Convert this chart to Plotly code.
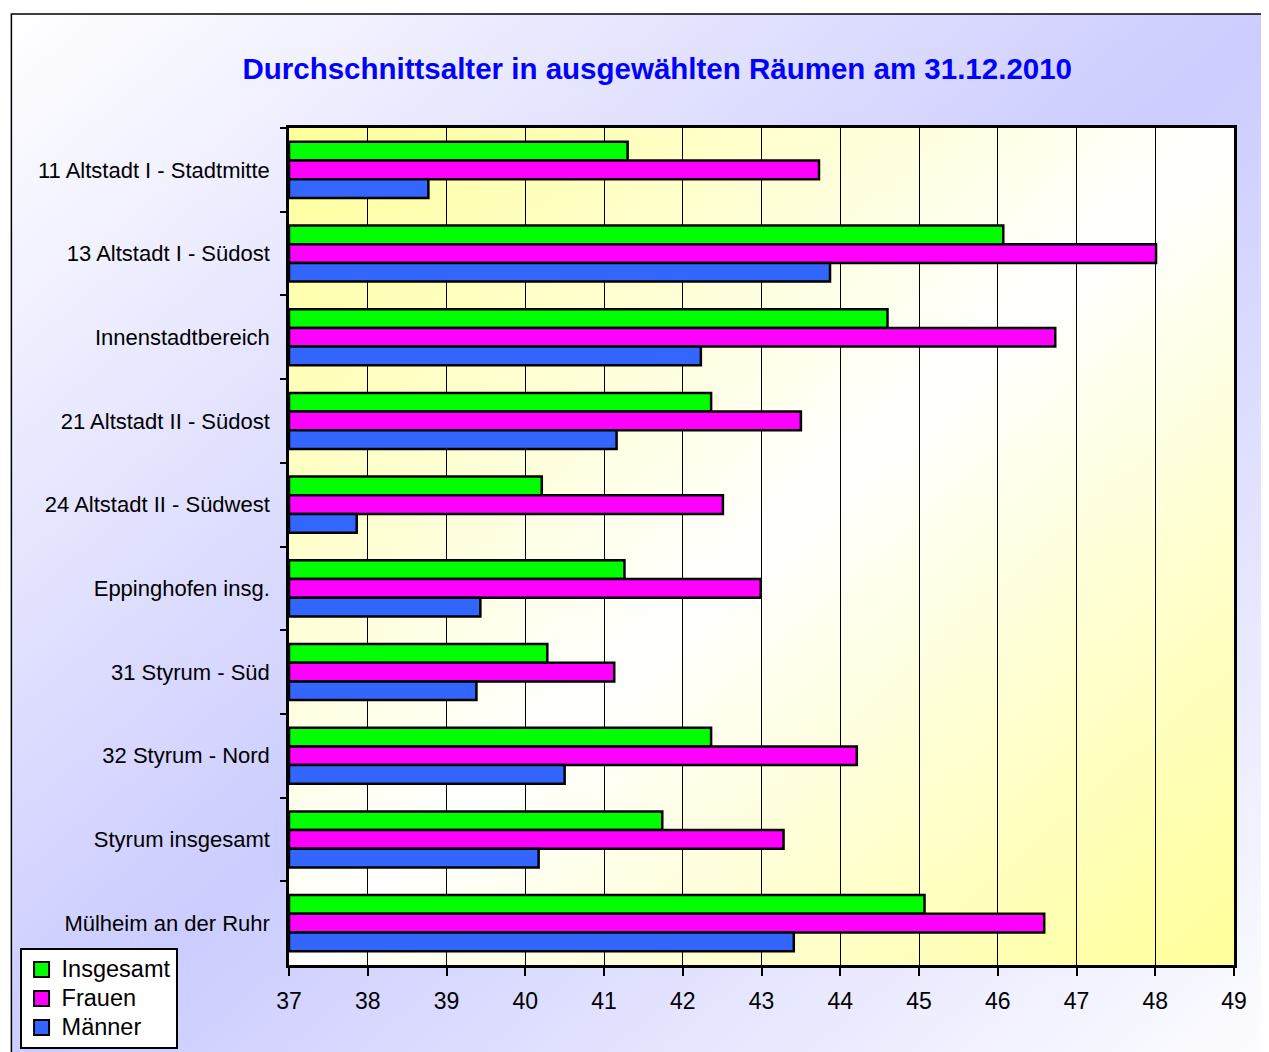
import base64
import plotly.graph_objects as go

categories = [
    "11 Altstadt I - Stadtmitte",
    "13 Altstadt I - Südost",
    "Innenstadtbereich",
    "21 Altstadt II - Südost",
    "24 Altstadt II - Südwest",
    "Eppinghofen insg.",
    "31 Styrum - Süd",
    "32 Styrum - Nord",
    "Styrum insgesamt",
    "Mülheim an der Ruhr",
]
insgesamt = [41.30, 46.07, 44.60, 42.36, 40.21, 41.26, 40.28, 42.36, 41.74, 45.07]
frauen = [43.73, 48.01, 46.73, 43.50, 42.51, 42.99, 41.13, 44.21, 43.28, 46.59]
maenner = [38.77, 43.87, 42.23, 41.16, 37.86, 39.43, 39.38, 40.50, 40.17, 43.41]
series_names = ["Insgesamt", "Frauen", "Männer"]
series_colors = ["#00ff00", "#ff00ff", "#3366ff"]
x_ticks = list(range(37, 50))
x_base = 37

# page: body has an 8px margin, so the figure starts at (8, 8) of the window
OFF = 8
W, H = 1269 - OFF, 1100
# plot area in window pixels
L, R, T, B = 287, 1234, 128, 965


def px(X):
    return (X - L) / (R - L)


def py(Y):
    return (B - Y) / (B - T)


def grad_svg(c_end, c_mid):
    svg = (
        '<svg xmlns="http://www.w3.org/2000/svg" width="400" height="400" '
        'preserveAspectRatio="none" viewBox="0 0 400 400">'
        '<defs><linearGradient id="g" x1="0" y1="0" x2="1" y2="1">'
        f'<stop offset="0" stop-color="{c_end}"/>'
        f'<stop offset="0.5" stop-color="{c_mid}"/>'
        f'<stop offset="1" stop-color="{c_end}"/>'
        '</linearGradient></defs>'
        '<rect width="400" height="400" fill="url(#g)"/></svg>'
    )
    return "data:image/svg+xml;base64," + base64.b64encode(svg.encode()).decode()


fig = go.Figure()
for name, vals, col in zip(series_names, [insgesamt, frauen, maenner], series_colors):
    fig.add_trace(go.Bar(
        y=categories, x=[v - x_base for v in vals], base=x_base,
        name=name, orientation="h", showlegend=False,
        marker=dict(color=col, line=dict(color="black", width=2.5)),
        hovertext=[f"{v:.2f}" for v in vals],
    ))
# legend entries with bigger square symbols
for name, col in zip(series_names, series_colors):
    fig.add_trace(go.Scatter(
        x=[None], y=[None], mode="markers",
        name=f'<span style="font-size:23.5px">{name}</span>',
        marker=dict(symbol="square", size=15, color=col,
                    line=dict(color="black", width=2)),
    ))

fig.update_layout(
    width=W, height=H,
    margin=dict(l=L - OFF, r=W - (R - OFF), t=T - OFF, b=H - (B - OFF)),
    paper_bgcolor="white",
    plot_bgcolor="rgba(0,0,0,0)",
    barmode="group",
    bargap=0.33,
    bargroupgap=0,
    font=dict(family="Arial, Liberation Sans, sans-serif", color="black"),
    title=dict(
        text="<b>Durchschnittsalter in ausgewählten Räumen am 31.12.2010</b>",
        font=dict(size=29.5, color="#0000ff"),
        x=px(656), xanchor="center", xref="paper",
        y=1 - (69 - OFF) / H, yanchor="middle",
    ),
    xaxis=dict(
        range=[37, 49], tickvals=x_ticks, ticktext=[str(t) for t in x_ticks],
        showgrid=True, gridcolor="black", gridwidth=1,
        ticks="outside", ticklen=8, tickcolor="black", tickwidth=1.5,
        showline=True, linecolor="black", linewidth=2.5, mirror=True,
        tickfont=dict(size=23), zeroline=False, ticklabelstandoff=6,
    ),
    yaxis=dict(
        autorange="reversed", tickson="boundaries",
        ticks="outside", ticklen=6, tickcolor="black", tickwidth=1.5,
        showline=True, linecolor="black", linewidth=2.5, mirror=True,
        tickfont=dict(size=22), showgrid=False, ticklabelstandoff=12,
    ),
    legend=dict(
        x=px(17), xanchor="left", y=py(948), yanchor="top",
        bgcolor="white", bordercolor="black", borderwidth=2,
        font=dict(size=20), itemwidth=30, tracegroupgap=0,
    ),
    images=[
        dict(source=grad_svg("#ffffff", "#ccccff"), xref="paper", yref="paper",
             x=px(8), y=py(14), sizex=px(1290) - px(8), sizey=py(14) - py(1080),
             sizing="stretch", layer="below", xanchor="left", yanchor="top"),
        dict(source=grad_svg("#ffff99", "#ffffff"), xref="paper", yref="paper",
             x=0, y=1, sizex=1, sizey=1,
             sizing="stretch", layer="below", xanchor="left", yanchor="top"),
    ],
    shapes=[
        dict(type="rect", xref="paper", yref="paper",
             x0=px(8.8), x1=px(1290), y0=py(1080), y1=py(14),
             line=dict(color="black", width=1.5), fillcolor="rgba(0,0,0,0)",
             layer="above"),
    ],
)

fig.write_html("out.html")
